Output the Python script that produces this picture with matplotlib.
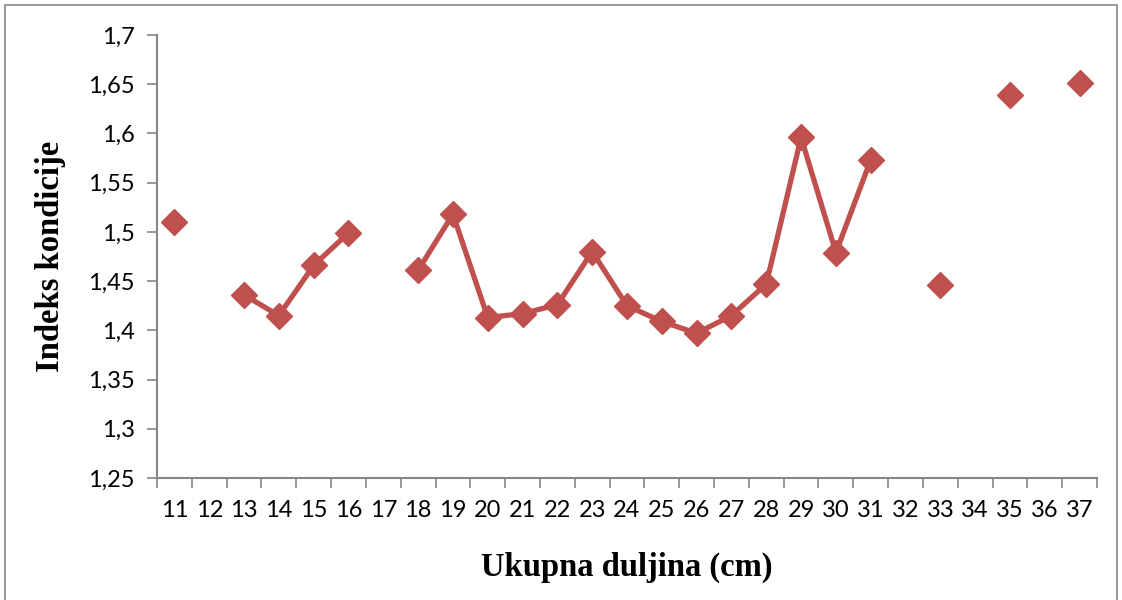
import matplotlib.pyplot as plt
import numpy as np
from matplotlib.patches import Rectangle

# Ukupna duljina (cm) kategorije i indeks kondicije (NaN = nema podatka)
duljina = list(range(11, 38))
indeks = [1.510, np.nan, 1.436, 1.415, 1.466, 1.499, np.nan, 1.461, 1.518,
          1.413, 1.417, 1.426, 1.480, 1.425, 1.409, 1.397, 1.415, 1.447,
          1.596, 1.479, 1.573, np.nan, 1.446, np.nan, 1.639, np.nan, 1.651]
y_ticks = [1.25, 1.3, 1.35, 1.4, 1.45, 1.5, 1.55, 1.6, 1.65, 1.7]

boja = '#C0504D'
siva = '#868686'

fig = plt.figure(figsize=(11.22, 6), dpi=100)
ax = fig.add_axes([157/1122, 1 - 478/600, 940/1122, 443/600])

x = np.arange(len(duljina))
ax.plot(x, indeks, color=boja, lw=3.8, marker='D', markersize=13,
        markeredgecolor=boja, markerfacecolor=boja, solid_joinstyle='miter')

ax.set_xlim(-0.5, len(duljina) - 0.5)
ax.set_ylim(1.25, 1.7)

# x: crtice na granicama kategorija, oznake u sredini
ax.set_xticks(np.arange(len(duljina) + 1) - 0.5)
ax.set_xticklabels([])
ax.set_xticks(x, minor=True)
ax.set_xticklabels([str(d) for d in duljina], minor=True)
ax.tick_params(axis='x', which='major', direction='out', length=7, color=siva, width=1.2)
ax.tick_params(axis='x', which='minor', length=0, pad=16, labelsize=17)

ax.set_yticks(y_ticks)
ax.set_yticklabels([('%g' % v).replace('.', ',') for v in y_ticks])
ax.tick_params(axis='y', direction='out', length=7, color=siva, width=1.2,
               pad=9, labelsize=17)

for lbl in ax.get_xticklabels(minor=True) + ax.get_yticklabels():
    lbl.set_fontfamily('Lato')

for s in ['top', 'right']:
    ax.spines[s].set_visible(False)
for s in ['left', 'bottom']:
    ax.spines[s].set_color(siva)
    ax.spines[s].set_linewidth(1.5)

ax.set_xlabel('Ukupna duljina (cm)', fontfamily='Liberation Serif',
              fontweight='bold', fontsize=23.5, labelpad=22)
ax.set_ylabel('Indeks kondicije', fontfamily='Liberation Serif',
              fontweight='bold', fontsize=23.5, labelpad=16)

fig.patches.append(Rectangle((5/1122, -0.01), 1112/1122, 1 - 5/600 + 0.01,
                             transform=fig.transFigure, fill=False,
                             edgecolor=siva, lw=1.2))

fig.savefig('out.png', dpi=100)
